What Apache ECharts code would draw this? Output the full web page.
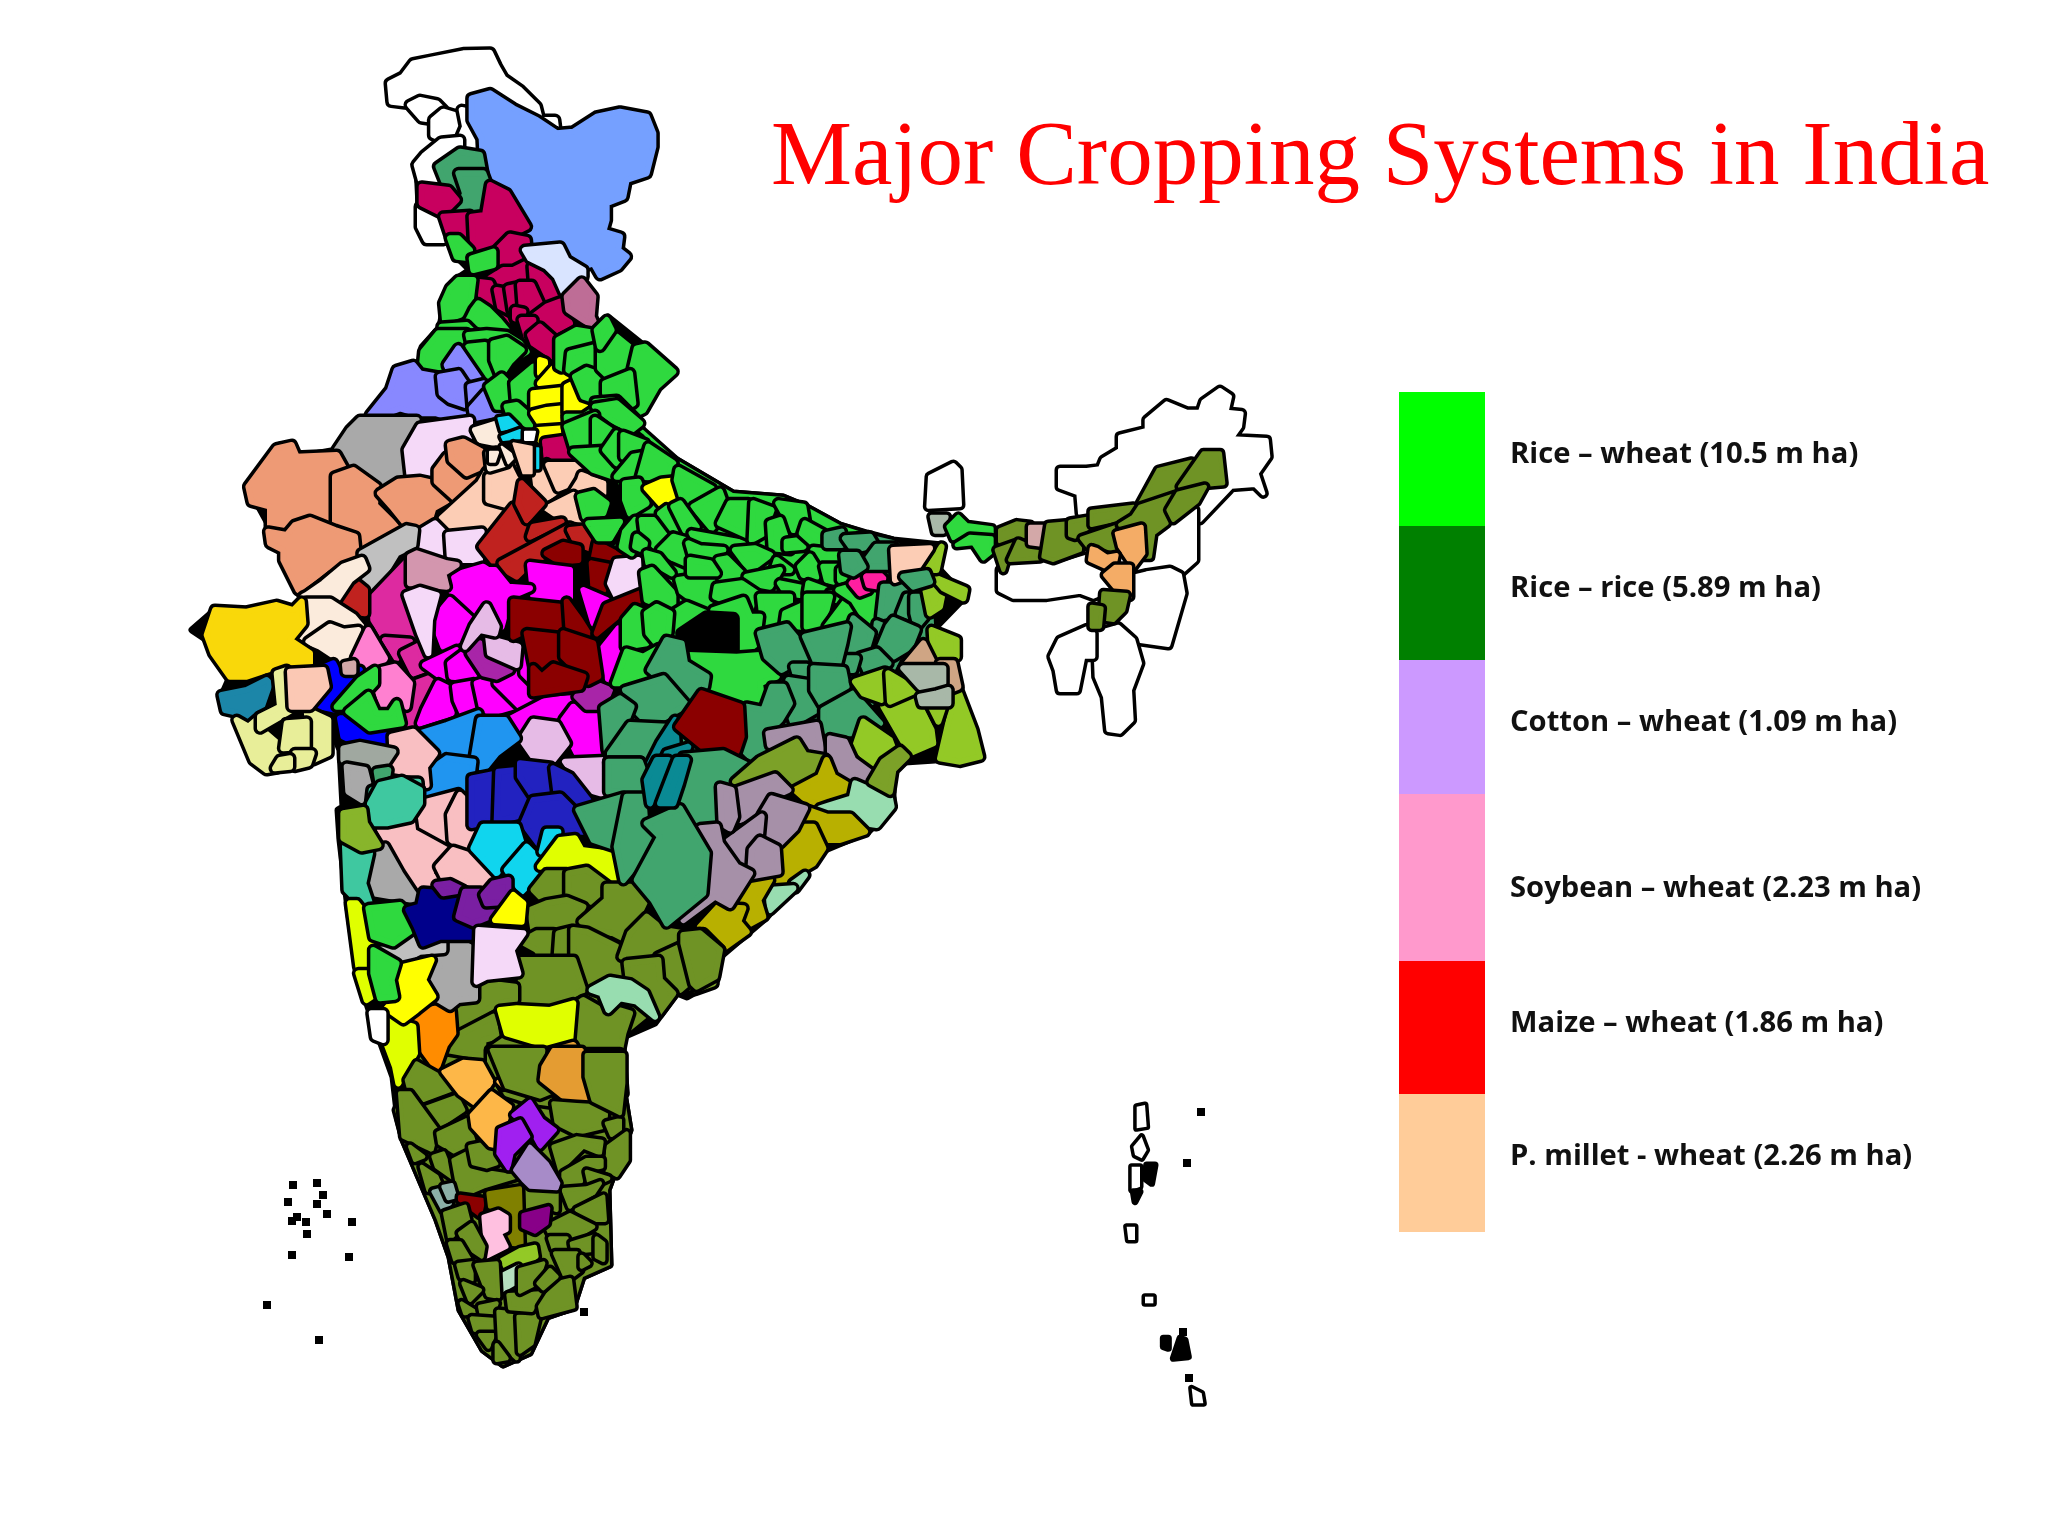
<!DOCTYPE html>
<html>
<head>
<meta charset="utf-8">
<style>html,body{margin:0;background:#fff}#main{width:2048px;height:1536px}</style>
<script src="https://cdn.jsdelivr.net/npm/echarts@6/dist/echarts.min.js"></script>
</head>
<body>
<div id="main"></div>
<script>
// legend
var cropLabels = ['Rice – wheat (10.5 m ha)', 'Rice – rice (5.89 m ha)', 'Cotton – wheat (1.09 m ha)', 'Soybean – wheat (2.23 m ha)', 'Maize – wheat (1.86 m ha)', 'P. millet - wheat (2.26 m ha)'];
var cropColors = ['#00FF00', '#008000', '#CC99FF', '#FF99CC', '#FF0000', '#FFCC99'];
var legendEdges = [392, 526, 660, 794, 961, 1094, 1232];

// district fill colours, short names used by the outlines below
var fills = {
  black: '#000', white: '#fff', green: '#2FD93F', sea: '#41A56E', olive: '#6F9325', blue: '#75A0FF', ice: '#D9E4FF',
  mauve: '#BE6D96', crim: '#C8005F', peri: '#8888FF', yel: '#FFFF00', gray: '#A9A9A9', lilac: '#F5D9F8', cream: '#FBEBDC',
  cyan: '#10D5EE', salm: '#EE9A75', peach: '#FCCDB5', silver: '#C0C0C0', dred: '#C0221F', mar: '#8B0000', mag: '#FF00FF',
  rose: '#DD2AA0', dull: '#D396AE', gold: '#F9D80A', pink: '#FF80D0', bblue: '#0000FF', lake: '#1C86A8', pyel: '#E8EE99',
  psal: '#FBC8B4', purp: '#A825A8', plum: '#E6BBE6', sky: '#2095F0', royal: '#2222C0', ppink: '#F9BFC2', ggreen: '#A0A8A0',
  aqua: '#3FC8A0', tile: '#D3A8A8', hot: '#FF1FA0', teal: '#0A8A94', moss: '#7CA128', grape: '#A690A8', ogold: '#B8B000',
  ygreen: '#93C926', tan: '#CFA584', sage: '#A8B8A8', mint: '#98DDB0', orng: '#F4AC66', lime: '#E0FF00', dorng: '#FF8C00',
  amber: '#E49C32', lorng: '#FDB748', navy: '#00008B', vio: '#7A1FA2', viol: '#A020F0', lav: '#A78BC8', grey2: '#8CB0A8',
  dolive: '#808000', bpink: '#FFC0E0', dpurp: '#880088', pmint: '#B5E0C0', lgreen: '#88B52B'
};

// mainland silhouette and regional underlays, whole-picture pixels
var mainland = ['black|417,165 420,227 442,242 450,240 457,257 470,270 458,278 445,300 440,327 422,347 420,368 413,365 397,370 390,390 370,415 337,450 297,457 280,445 248,487 270,527 283,560 298,592 303,602 293,610 247,612 215,610 192,630 207,640 230,677 222,695 260,760 270,770 313,762 328,753 328,720 340,750 343,807 338,810 340,840 347,900 357,973 370,1013 393,1077 398,1120 403,1140 437,1220 450,1257 460,1310 483,1350 503,1365 530,1353 547,1317 573,1308 583,1277 610,1265 608,1190 630,1130 623,1087 623,1037 655,1023 677,993 687,997 717,980 720,957 767,917 825,850 868,832 893,807 893,773 905,762 935,760 980,758 957,687 933,630 965,597 937,567 942,545 893,540 867,533 840,525 807,507 783,497 733,493 677,460 650,443 647,440 637,417 645,410 657,387 673,372 643,345 608,317 597,327 570,297 525,253 523,220 483,173 480,155 460,152 438,167',
  'olive|395,1110 430,1030 470,1000 560,985 640,1000 677,993 623,1037 623,1087 630,1130 608,1190 610,1265 583,1277 573,1308 547,1317 530,1353 503,1365 483,1350 460,1310 450,1257 437,1220 403,1140',
  'sea|850,530 893,540 930,560 935,640 900,660 880,700 820,740 760,720 690,760 640,740 620,700 640,660 760,640 850,640',
  'green|640,427 677,460 733,493 783,497 807,507 840,525 865,533 880,590 850,640 760,630 700,640 640,650 620,690 625,600 600,560 640,520 610,470'];

// crop-local outlines: x/3 + origin gives picture pixels
var northDistricts = ['white|60,130 100,110 130,70 180,60 280,40 360,38 380,80 400,115 450,150 500,200 510,240 555,240 560,280 500,240 430,205 360,160 310,175 305,210 275,210 240,215 200,190 150,180 105,190 65,185', 'white|120,195 150,180 200,190 220,210 190,240 155,235', 'white|190,240 220,215 270,230 285,260 270,295 225,300 190,285', 'white|275,210 300,215 305,240 335,295 330,340 270,330 270,295 285,260', 'white|140,375 165,345 215,305 270,300 270,330 205,380 215,440 155,430', 'white|150,500 215,510 220,600 170,600 150,560',
  'blue|305,175 360,160 430,205 500,240 560,280 610,275 680,230 750,215 830,230 850,280 850,320 830,400 770,420 760,470 710,490 710,540 700,575 750,590 745,630 770,650 745,680 690,705 670,670 640,680 590,650 570,615 530,625 480,600 465,550 420,490 370,425 340,400 335,295 305,240',
  'sea|205,380 270,335 330,345 340,400 265,400 285,460 265,480 240,450 225,430', 'sea|265,400 340,400 355,440 345,525 265,510 285,460',
  'crim|155,440 235,450 260,480 240,500 215,520 155,490', 'crim|220,530 300,525 305,630 265,590 240,590', 'crim|305,530 345,525 360,435 410,460 470,560 420,585 380,620 310,635', 'crim|380,630 420,590 470,600 475,660 430,685 400,680', 'crim|360,715 400,690 430,690 470,670 480,710 430,735 390,745', 'crim|485,680 540,720 560,770 530,800 500,790 490,745', 'crim|320,725 360,730 385,790 410,850 400,865 340,790', 'crim|380,750 410,755 420,815 390,800', 'crim|415,745 440,740 450,810 425,810', 'crim|450,735 485,735 510,790 480,825 455,800', 'crim|435,810 460,815 455,840 435,835', 'crim|490,830 530,800 570,785 600,850 560,870 510,850', 'crim|455,840 490,840 490,880 470,890', 'crim|480,885 510,860 555,900 550,950 490,910',
  'ice|465,630 570,620 590,660 640,690 640,710 580,755 560,710 530,680 480,655', 'mauve|590,770 635,725 670,770 665,830 680,865 640,840 595,810',
  'green|240,595 265,595 300,630 300,655 260,650', 'green|305,655 370,635 370,675 310,690', 'green|265,720 310,720 300,800 270,825 225,840 220,790 240,745', 'green|325,790 355,810 385,840 410,870 370,870 320,850 290,850 310,810', 'green|215,860 290,855 320,885 300,885', 'green|160,935 205,880 290,880 270,915 235,930 210,985 155,985', 'green|295,885 350,880 410,885 450,910 470,935 430,960 390,1000 370,970 350,1020 320,990', 'green|295,920 345,915 360,1010 335,1020', 'green|370,910 410,900 455,930 420,965 390,1010 370,960',
  'peri|230,975 265,925 330,1020 275,1000 245,1010', 'peri|0,1125 60,1050 80,990 130,975 150,1000 205,1010 210,1060 240,1085 270,1100 290,1130 230,1130 200,1120 140,1120 90,1105 50,1120', 'peri|210,1010 265,1000 285,1030 285,1095 240,1080 215,1060', 'peri|300,1040 340,1030 345,1060 305,1100', 'peri|305,1105 345,1060 385,1120 310,1135',
  'green|355,1040 395,1010 425,1040 430,1100 380,1100', 'green|430,1030 490,980 505,1010 490,1090 435,1090', 'green|410,1100 440,1095 480,1130 480,1160 450,1140 420,1130',
  'yel|510,960 525,965 525,1000 510,1000', 'yel|510,1030 550,985 595,1015 590,1040 540,1040', 'yel|490,1060 580,1050 580,1090 530,1100 490,1105', 'yel|490,1120 530,1110 580,1105 585,1150 510,1150', 'yel|505,1170 580,1165 580,1200 505,1200', 'yel|590,1040 610,1030 660,1090 640,1120 590,1120',
  'green|565,900 620,870 680,880 690,905 640,930 590,935 575,985 565,980', 'green|600,940 680,920 680,990 630,990 615,1000 595,990', 'green|615,1010 650,990 705,1010 700,1060 670,1080 640,1070', 'green|690,925 740,890 790,930 780,1010 710,1005 690,985', 'green|800,925 825,920 910,995 860,1040 820,1110 800,1120 780,1010', 'green|705,1030 780,1000 790,1090 770,1100 705,1060', 'green|675,1085 740,1080 800,1140 780,1165 720,1150 670,1125', 'green|590,1130 640,1130 670,1110 665,1200 595,1200', 'green|680,1140 720,1160 725,1200 680,1200', 'green|730,1170 770,1170 810,1200 730,1200', 'green|710,840 725,870 690,920 680,870'];

var westDistricts = ['gray|470,90 510,30 540,0 710,0 700,50 670,90 665,165 600,205 550,150 500,150 480,120', 'lilac|680,90 720,20 870,0 870,50 810,75 760,160 690,180', 'cream|885,30 950,10 950,70 900,60', 'crim|1095,65 1165,55 1175,115 1100,115',
  'salm|205,200 290,85 335,75 350,110 470,105 495,150 460,165 460,320 390,295 345,315 330,350 270,320 270,260 215,245', 'salm|465,170 520,150 590,200 585,255 650,320 640,360 550,385 520,340 465,325', 'salm|600,220 655,185 720,180 765,190 805,240 760,265 745,315 680,315 640,265', 'salm|265,335 320,345 345,315 390,300 465,330 525,350 530,400 440,445 355,510 310,420 310,390 270,370', 'salm|770,150 800,110 830,150 860,165 900,145 880,190 825,235 770,185', 'salm|810,75 850,65 915,100 905,140 860,160 815,120',
  'peach|785,295 900,190 920,155 930,240 980,255 935,330 860,320 790,325', 'peach|925,170 1010,130 1025,205 1015,250 980,255 925,240', 'peach|1000,80 1060,80 1060,155 1030,160 1000,100', 'peach|1065,170 1100,130 1120,200 1135,210 1100,235 1070,210', 'peach|1105,135 1205,135 1200,180 1135,205', 'peach|1205,165 1270,190 1270,220 1175,220 1200,180', 'peach|1100,265 1180,225 1205,300 1130,285', 'cream|925,100 950,95 980,130 930,145',
  'lilac|715,340 765,310 800,345 800,420 725,380', 'lilac|805,345 905,335 900,420 810,420', 'silver|545,400 680,325 705,330 700,375 650,400 580,515 550,490',
  'dred|905,380 1000,260 1045,320 1040,370 975,420 945,430', 'dred|1025,190 1085,250 1040,300 1015,250', 'dred|1060,320 1145,305 1050,350', 'dred|965,430 1170,320 1165,370 1050,430 1010,470 975,450', 'dred|1170,330 1220,325 1245,370 1230,385 1190,370',
  'mar|1100,400 1150,375 1195,385 1195,420 1140,425', 'mar|1250,370 1325,410 1300,440 1240,420', 'mar|1235,430 1285,440 1270,510 1240,500', 'lilac|1290,490 1310,425 1375,420 1375,500 1310,530',
  'mag|1050,435 1170,450 1170,540 1085,550 1060,530', 'mag|825,465 910,440 925,450 945,450 985,500 1050,505 990,530 965,620 900,590 870,600 850,560 810,510', 'mag|760,600 810,540 875,600 860,650 790,680',
  'rose|575,535 680,425 670,510 680,560 700,660 610,650 580,600', 'rose|615,660 690,665 650,715', 'rose|670,700 720,675 730,750 700,760', 'rose|705,790 760,770 735,860 690,920 680,890',
  'dull|690,410 710,400 800,430 830,435 790,460 800,500 690,490', 'lilac|680,525 720,510 770,525 750,600 745,700 720,640', 'dred|490,535 530,490 555,510 555,580 520,575',
  'cream|380,525 430,490 490,440 545,420 555,445 510,480 470,540 370,530', 'cream|380,545 450,545 520,590 545,620 460,600 430,640 350,660 370,600', 'cream|385,665 450,620 490,635 535,630 520,720 490,760 480,720 420,680',
  'gold|80,645 105,570 200,575 290,555 340,570 365,545 370,610 330,660 390,700 390,730 290,740 200,770 150,770 100,700', 'pink|525,715 565,630 615,715 600,735 540,740', 'pink|590,800 605,750 645,740 690,790 680,860 640,830 610,870',
  'bblue|420,860 450,800 435,740 460,730 480,770 540,750 520,790 470,870', 'bblue|480,895 500,895 540,935 625,945 625,975 520,965 490,950', 'green|470,860 540,780 585,750 585,790 520,860', 'green|505,875 565,825 590,880 630,880 650,850 665,910 570,925',
  'lake|125,825 200,810 260,780 270,790 235,890 210,905 180,880 135,870', 'pyel|170,900 205,920 240,890 240,925 310,985 290,1045 260,1050 220,1020', 'pyel|290,760 320,750 335,870 310,885 240,925 240,890 300,860', 'pyel|380,870 445,900 445,1000 400,1020 370,990 385,930', 'pyel|320,910 380,905 380,980 310,985', 'pyel|345,1000 395,1000 385,1030 345,1040', 'pyel|300,1020 330,1015 330,1040 285,1045', 'psal|330,755 430,750 440,800 390,860 335,860', 'tile|495,735 520,730 520,755 497,755',
  'mag|735,735 830,690 810,760 790,775', 'mag|810,730 850,700 900,740 880,775 815,770', 'mag|735,870 775,790 815,810 815,880 720,910', 'mag|825,800 880,790 890,860 850,885 830,840', 'mag|890,790 920,780 1000,860 930,880 905,860', 'mag|950,790 1030,750 1090,830 1020,860', 'mag|1030,700 1060,710 1060,790 1030,760', 'mag|985,900 1100,840 1175,835 1140,900 1040,910 1000,940', 'mag|1150,900 1180,860 1255,870 1265,990 1200,1020 1180,980', 'mag|1255,700 1315,625 1335,730 1285,780', 'mag|1210,510 1280,540 1240,610',
  'purp|870,700 900,670 920,720 990,750 950,770 910,760', 'purp|1190,830 1230,785 1290,810 1270,860 1220,860', 'plum|925,655 1015,680 1010,735 930,700', 'plum|880,620 920,560 950,620 945,640 900,630 855,680', 'plum|1025,960 1060,905 1130,915 1160,970 1120,1020 1060,1010', 'plum|1155,1025 1280,1020 1280,1125 1210,1105',
  'mar|1000,545 1140,560 1150,640 1040,630 1000,650', 'mar|1160,545 1200,600 1225,640 1165,620', 'mar|1040,640 1135,650 1145,730 1115,770 1060,740', 'mar|1150,640 1240,670 1255,770 1225,785 1150,710', 'mar|1060,745 1085,770 1120,740 1210,770 1200,800 1060,820', 'mar|1250,640 1280,560 1380,520 1380,540 1310,590',
  'sky|720,940 800,915 895,880 890,1000 860,1010 780,1000', 'sky|900,900 975,900 1010,955 950,1000 910,1050 880,1020', 'sky|750,1050 800,1015 880,1025 870,1105 780,1110 730,1150',
  'ppink|635,950 700,935 765,1000 735,1040 740,1095 700,1060 640,1050', 'ggreen|490,985 540,975 640,995 610,1040 540,1055 490,1020', 'gray|500,1040 555,1050 565,1090 545,1140 505,1115', 'sea|590,1055 625,1050 620,1085 595,1085', 'aqua|575,1110 640,1085 715,1085 720,1155 710,1200 565,1200'];

var delhiDistricts = ['cyan|175,265 205,260 235,290 185,300', 'cyan|185,320 240,300 240,325 190,330', 'cyan|285,355 295,355 295,415 280,415', 'white|255,305 285,305 280,330 255,330', 'cream|150,365 175,365 165,395 150,395', 'cream|185,350 225,380 205,400', 'peach|220,340 275,350 275,430 250,430'];

var eastDistricts = ['green|105,20 170,10 240,70 215,90 155,60', 'green|20,80 105,45 100,140 40,145', 'green|105,60 150,90 130,135 105,135', 'green|40,155 130,150 160,230 100,210', 'green|135,150 170,100 180,145 170,190', 'green|190,105 255,130 215,170 190,170', 'green|170,230 220,170 250,165 215,230', 'green|240,230 265,140 340,190 320,235', 'green|195,250 235,245 260,310 210,340 195,300', 'yel|260,265 305,245 355,240 355,290 305,315', 'green|355,210 455,265 400,310 375,320 350,240', 'green|400,320 480,275 500,330 455,385', 'green|300,340 320,325 380,400 340,415 305,370', 'green|340,320 360,310 410,380 380,400', 'green|60,290 100,280 140,310 130,340 75,350', 'green|85,370 180,365 150,415 115,415', 'green|195,395 225,360 240,400 215,460 185,440', 'green|245,360 280,360 325,420 290,445 250,400', 'green|230,410 255,430 250,450 225,440', 'green|340,410 375,420 375,490 340,475 300,450', 'green|395,400 450,410 560,430 550,450 420,440', 'green|385,430 420,445 490,450 450,480 395,465', 'green|480,370 510,310 565,310 570,410', 'green|580,310 635,330 610,400 575,420', 'green|655,310 730,320 740,380 700,390', 'green|630,370 660,360 690,450 635,445', 'green|680,425 720,420 730,440 680,445', 'green|735,370 790,400 770,440 725,400', 'green|760,450 850,460 830,490 790,490', 'green|525,450 585,445 630,465 570,510', 'green|650,480 690,510 640,510', 'green|720,500 750,470 775,510 770,530 730,525', 'green|790,500 830,500 820,545 800,540', 'green|840,510 855,500 890,525 840,540', 'green|475,480 500,475 545,520 480,550', 'green|260,460 295,470 335,520 300,500 265,490', 'green|250,520 275,510 340,580 340,630 260,600', 'green|355,540 455,525 460,580 440,630 365,575', 'green|390,480 450,490 470,520 390,520 390,510', 'green|560,530 660,510 630,560 570,550', 'green|470,560 545,550 590,580 570,630 465,590', 'green|660,550 735,565 720,585 680,580', 'green|745,550 800,570 760,590 740,580', 'green|810,580 830,580 835,600 805,600', 'green|600,590 690,590 690,610 640,680 610,680', 'green|675,640 730,615 725,680 670,675', 'green|740,590 810,590 800,630 775,680 740,680', 'green|800,680 860,600 890,650 850,670', 'green|835,570 870,560 900,580 950,570 950,640 930,680 880,600', 'green|340,640 380,615 440,640 370,700 345,700', 'green|460,630 550,600 570,650 600,650 590,730 555,760 525,750 525,660 490,655', 'green|195,660 225,625 260,640 260,730 195,740', 'green|260,640 290,620 330,640 325,700 290,730 265,700',
  'black|365,700 440,650 520,655 520,765 375,765', 'green|385,765 530,770 600,765 650,830 600,850 610,920 530,910 440,860 440,840', 'green|200,755 250,770 295,745 260,790 250,850 190,850 165,850', 'hot|875,550 900,525 925,570 900,580', 'hot|918,530 945,510 970,535 960,560 925,555',
  'sea|800,405 845,395 845,435 800,435', 'sea|855,415 930,410 945,435 880,450', 'sea|920,480 950,440 1000,440 990,500 915,500', 'sea|850,465 890,465 910,500 880,520 855,510', 'sea|970,560 1040,560 1010,640 960,650', 'sea|1020,640 1040,590 1060,590 1050,650', 'sea|1060,590 1085,590 1095,650 1070,680 1060,640', 'sea|950,670 1000,690 985,720 945,715', 'sea|985,680 1000,660 1070,690 1050,740 1000,770 960,740', 'sea|860,710 880,655 935,700 920,750 865,770', 'sea|900,770 950,755 985,790 920,815', 'sea|845,775 890,775 880,810 850,810', 'sea|600,700 680,680 755,770 700,790 665,810 620,770', 'sea|735,710 860,680 850,730 835,790 770,790', 'sea|700,800 740,800 745,830 710,835', 'sea|685,840 750,850 770,930 700,970 675,900', 'sea|760,805 850,810 860,860 790,920 760,870', 'sea|790,930 880,880 960,970 890,960 880,1000 790,1000', 'sea|270,810 320,720 365,730 375,790 440,830 435,860 380,900', 'sea|195,870 310,835 380,915 270,975 215,920', 'sea|130,925 180,895 215,920 190,985 140,1050', 'sea|150,1060 210,975 320,980 290,1040 250,1075 150,1080', 'sea|145,1085 240,1085 250,1170 150,1180', 'sea|560,920 610,930 635,860 670,860 690,910 660,960 620,1000 610,1090 530,1060 550,990', 'sea|380,1085 440,1055 520,1060 570,1110 520,1150 480,1200 360,1200',
  'teal|300,1030 345,960 350,1030 270,1140 260,1110', 'teal|320,1060 385,1040 365,1090 330,1200 285,1200 290,1130', 'mar|355,980 425,880 540,920 545,1010 530,1055 440,1050',
  'ygreen|885,1040 910,965 990,1020 1005,1060 950,1115', 'ygreen|970,920 1070,900 1115,990 1120,1030 1050,1060 1010,990', 'ygreen|1140,1075 1190,860 1240,990 1260,1070 1200,1085', 'ygreen|1115,925 1150,920 1135,965', 'ygreen|885,845 975,815 965,900 910,880', 'ygreen|985,820 1070,870 990,905', 'ygreen|1095,565 1150,570 1140,620 1110,640', 'ygreen|1120,530 1215,570 1210,595 1150,565', 'ygreen|1115,690 1190,720 1190,770 1120,775', 'ygreen|1100,510 1145,440 1130,510',
  'tan|1040,790 1090,730 1120,790', 'tan|1140,790 1180,790 1195,860 1170,870', 'sage|1030,805 1150,805 1150,850 1110,880 1080,860', 'sage|1080,890 1130,880 1165,870 1165,910 1085,910', 'peach|1000,450 1110,445 1060,520 1005,540', 'sea|1030,530 1100,520 1110,545 1060,560'];

var coastDistricts = ['sea|10,110 130,100 210,140 160,180 110,200 110,310 60,320 80,420 10,560 0,250', 'grape|265,40 410,15 425,95 375,100 355,60 270,75', 'grape|450,55 495,65 520,120 575,160 560,185 480,170 450,120', 'moss|165,185 240,120 350,65 375,105 435,115 420,160 345,195 310,165 250,175 215,190', 'ogold|345,210 420,170 440,120 460,170 520,205 525,225 480,250 440,240 390,250', 'mint|420,265 450,255 515,235 525,190 630,235 635,260 590,315 555,310 510,280 430,280', 'ogold|365,300 385,270 440,290 510,290 555,335 480,360 425,360 400,305', 'ogold|305,395 350,320 400,320 430,385 400,430 340,465 330,490 285,480', 'mint|340,490 375,465 345,505', 'mint|265,510 340,505 270,570', 'ogold|195,510 230,475 270,480 235,540 250,590 195,620 175,590', 'ogold|60,620 115,560 190,565 175,605 200,635 130,685', 'grape|160,215 285,170 325,210 270,235 235,280 180,300', 'grape|245,285 275,235 375,265 345,325 300,370 245,345', 'grape|135,370 245,290 240,345 205,395 190,445 165,430', 'grape|215,390 240,360 290,385 295,455 210,470', 'grape|120,200 155,210 165,290 150,325 125,310', 'grape|60,325 110,320 120,370 170,440 210,460 150,555 105,530 10,600 15,555 85,470', 'moss|10,640 70,640 120,690 85,770 100,790 45,810 25,700', 'olive|0,640 10,640 35,800 0,810', 'moss|575,185 610,125 660,90 680,110 640,150 630,215'];

var northeastDistricts = ['white|420,300 500,300 540,295 550,270 600,240 600,200 680,180 680,150 740,100 800,125 840,125 850,95 900,60 930,80 920,125 965,130 960,170 935,205 1040,210 1045,260 1010,310 1030,370 1005,345 935,350 840,450 825,415 850,345 910,340 900,250 850,250 815,275 715,300 660,400 480,430 475,370 420,350', 'white|30,320 100,285 115,300 120,405 25,410', 'sage|35,440 80,440 70,485 45,485', 'green|85,470 115,440 140,465 215,475 215,490 140,495 100,505', 'green|110,525 150,500 215,505 215,545 190,565 160,520',
  'white|640,610 700,545 720,490 750,465 825,420 825,570 780,610 750,590 680,610', 'white|640,620 680,610 750,600 780,615 790,670 745,825 640,810 600,800 600,770 630,680', 'white|240,600 270,570 360,570 400,590 500,560 550,620 570,660 520,680 480,665 380,680 280,680 240,660', 'white|525,790 595,770 640,810 660,880 630,960 635,1050 600,1085 565,1080 555,980 530,920', 'white|395,860 420,810 500,775 520,790 520,860 490,860 470,960 420,960 410,900',
  'olive|240,480 290,460 330,465 330,495 240,515', 'olive|230,540 285,520 260,565 250,600', 'olive|270,570 295,515 330,530 360,535 360,565', 'tile|330,470 375,470 370,525 330,520', 'olive|385,465 445,460 445,510 480,520 480,540 400,570 370,560', 'olive|450,455 510,445 510,470 465,500 450,495', 'olive|515,425 640,410 630,440 515,465', 'olive|485,505 590,470 580,510 590,530 600,545 550,530 505,530', 'olive|660,400 715,300 815,275 760,360', 'olive|780,350 850,250 900,250 910,340 850,345 790,365', 'olive|640,440 660,410 765,375 740,460 700,490 690,560 670,560 660,470 600,465', 'olive|745,420 775,370 855,350 830,395 760,450',
  'orng|590,490 665,470 670,550 640,590 600,530', 'orng|515,535 530,540 560,560 590,555 585,580 555,590 510,570', 'orng|555,615 585,590 630,590 630,680 600,670', 'olive|550,670 620,675 610,720 580,750 545,745', 'olive|515,710 545,715 540,770 515,770'];

var centralDistricts = ['ppink|250,205 290,125 385,100 360,155 350,245 290,230', 'ppink|360,165 390,105 415,130 420,200 445,210 410,270 365,240', 'ppink|150,210 245,180 250,215 350,270 300,340 330,370 260,385 205,310', 'ppink|325,320 370,270 430,290 485,360 470,385 390,360 340,350',
  'royal|425,55 500,40 495,180 425,195', 'royal|505,35 560,30 600,120 575,165 500,185', 'royal|570,10 660,20 665,90 610,110 570,50', 'royal|670,25 720,50 775,120 735,135 680,105', 'royal|580,190 610,120 690,110 770,190 760,215 690,215 625,250', 'cyan|430,265 460,200 560,200 575,250 540,290 500,340', 'cyan|530,330 590,260 620,290 620,350 575,395', 'cyan|635,275 650,215 685,215 680,270', 'lime|630,320 690,240 735,235 755,270 870,285 860,365 790,330 700,325',
  'olive|610,390 650,340 710,340 705,420 650,430', 'olive|715,340 770,330 830,375 820,440 770,420 715,410', 'olive|600,450 650,430 710,420 760,440 735,490 680,510 610,510', 'olive|755,485 830,420 830,380 905,380 945,425 890,540 850,520 780,510', 'olive|575,545 620,520 670,520 680,560 640,600 620,570', 'olive|685,520 725,510 725,600 680,590', 'olive|730,510 770,515 860,560 870,650 765,685 730,640', 'olive|875,590 900,520 950,470 1000,510 1060,520 990,580 910,600', 'olive|985,590 1050,560 1085,660 1050,690 1000,660', 'olive|1060,550 1060,525 1110,520 1170,570 1155,650 1100,680 1090,670', 'olive|890,610 985,600 990,660 1030,700 985,760 950,680 895,650', 'olive|570,600 610,600 730,600 760,690 640,745 575,730', 'olive|385,725 470,670 555,680 555,720 500,730 385,810', 'olive|385,825 490,770 500,830 460,840 460,890 350,870', 'olive|480,870 530,835 630,870 620,950 660,1000 660,1030 590,1020 530,1000 480,910', 'olive|730,740 760,720 830,760 850,745 900,760 880,820 870,870 770,870 735,830', 'olive|760,880 870,880 880,1000 800,1060 790,990',
  'mint|785,690 840,660 900,670 945,700 975,770 920,725 870,715 835,750 815,700', 'lime|510,750 560,745 660,750 730,730 720,850 690,860 630,850 530,820', 'dorng|245,760 345,740 365,755 370,820 345,855 320,925 265,850', 'amber|640,880 730,855 760,910 790,985 785,1030 680,1000 635,930',
  'gray|100,375 120,290 165,260 210,340 250,400 280,440 250,420 130,400', 'gray|280,655 330,620 310,575 365,530 435,570 435,715 385,720 360,740 310,710', 'silver|150,570 195,560 265,515 270,550 340,540 340,570 270,575 225,600', 'aqua|45,260 120,280 100,370 120,430 70,410 50,390', 'aqua|120,130 150,75 215,60 270,90 270,130 240,175 170,190 120,190', 'lgreen|40,160 100,150 105,190 145,255 95,265 40,235',
  'lime|60,430 80,430 120,480 125,570 110,625 85,620', 'lime|85,640 110,640 140,700 110,720', 'lime|165,840 185,780 250,800 255,880 205,970 195,920', 'yel|200,625 305,600 280,660 310,710 260,750 220,780 170,745 205,700', 'green|115,445 210,435 250,480 240,515 190,550 130,530', 'green|130,570 200,610 185,660 195,710 150,715 130,640',
  'navy|235,450 270,440 280,395 340,400 390,400 385,480 430,510 430,530 330,530 280,550 260,500', 'vio|320,375 360,370 400,390 340,400', 'vio|405,395 450,395 460,430 495,440 490,465 430,490 385,470', 'vio|460,405 490,370 535,360 535,425 470,430', 'yel|495,480 550,405 580,430 575,485', 'lilac|445,510 580,520 545,570 565,640 470,650 440,665',
  'sea|835,5 930,5 945,45 930,90 835,95', 'sea|745,150 880,110 880,175 850,260 790,240', 'sea|860,260 890,110 940,110 945,180 970,290 930,300 880,360', 'sea|920,360 990,230 950,190 1050,145 1130,280 1120,400 1010,490 970,420', 'teal|950,60 980,0 1015,0 1000,50 960,130', 'teal|990,130 1040,0 1070,0 1050,70 1030,130', 'white|125,760 160,760 160,840 135,830'];

var southDistricts = ['olive|140,90 170,40 260,90 285,115 190,150 150,130', 'olive|180,180 290,140 310,180 220,240', 'olive|120,130 150,130 230,240 215,300 130,260', 'olive|235,250 320,210 340,270 290,310 240,280', 'olive|150,290 190,320 165,330', 'olive|220,320 250,310 280,385 230,350', 'olive|185,350 230,380 240,405 205,420', 'olive|280,330 320,310 340,360 470,380 370,410 300,440', 'olive|330,290 380,280 410,340 380,350 340,340',
  'lorng|250,65 310,35 365,40 395,95 350,165 300,130', 'lorng|335,195 395,130 450,170 415,290 390,285 340,230', 'lorng|415,95 450,90 430,110', 'olive|395,0 550,0 545,70 590,120 540,140 440,110', 'amber|550,50 580,0 665,0 700,160 620,150 545,90', 'olive|580,160 650,165 740,170 735,230 650,250 590,220', 'olive|740,220 780,210 780,250 755,255', 'olive|680,15 790,15 790,100 780,190 700,150 680,80', 'olive|745,290 800,250 800,330 770,375 740,360', 'olive|580,290 650,265 725,275 720,310 670,290 600,360', 'olive|610,370 680,330 725,330 725,350 680,360 660,400 610,400', 'olive|680,365 745,385 690,410', 'olive|610,420 680,415 720,400 700,430 630,470', 'olive|650,480 730,440 735,510 690,510', 'olive|490,420 590,430 590,480 560,470 490,490', 'olive|560,530 630,495 700,530 650,560 570,550', 'olive|570,565 620,565 620,595 580,595', 'olive|635,580 700,560 700,600 640,605', 'olive|710,565 730,580 730,630 710,620', 'olive|585,610 650,610 660,660 620,690', 'olive|665,620 685,640 665,650',
  'viol|460,195 510,155 545,210 585,240 540,290 510,235', 'viol|420,240 480,215 505,260 455,310 445,355 415,310', 'lav|465,360 510,290 560,340 595,400 590,415 510,410 490,390', 'grey2|220,425 240,420 270,460 250,480', 'grey2|250,410 275,405 285,440 265,445', 'mar|300,440 370,450 360,495 300,450', 'dolive|385,430 480,415 485,585 440,580 440,490 390,470', 'bpink|370,500 415,485 440,500 440,540 420,550 440,590 380,620', 'dpurp|490,495 565,475 560,520 525,545 490,530', 'ygreen|425,630 480,600 525,590 530,620 490,650 435,650', 'pmint|425,675 475,650 465,700 430,720',
  'olive|255,490 315,470 325,510 270,565', 'olive|300,550 335,525 370,590 365,620 320,590', 'olive|270,580 300,580 330,630 285,630', 'olive|295,645 335,640 335,690 305,680', 'olive|350,645 410,640 415,740 385,735', 'olive|310,700 360,720 330,750', 'olive|305,760 345,785 315,790', 'olive|360,770 410,760 400,790 365,795', 'olive|335,805 410,810 405,845 345,840', 'olive|360,855 400,855 385,890', 'olive|415,785 460,790 470,870 470,925 420,880', 'olive|410,885 440,925 410,930', 'olive|475,800 535,795 515,880 480,905', 'olive|445,735 540,730 515,780 450,775', 'olive|540,770 585,700 630,690 640,770 545,795', 'olive|480,660 550,640 530,700 480,725', 'olive|535,700 570,660 590,680 550,715'];

var andamanIslands = ['white|110,50 135,45 140,110 110,115', 'white|100,170 125,140 140,180 125,205 105,195', 'white|95,230 120,230 120,290 95,300', 'white|80,410 105,410 105,450 85,450', 'white|135,620 160,620 160,640 135,640', 'white|275,895 305,910 310,940 280,940', 'black|140,225 165,225 155,280 135,265', 'black|100,305 120,305 105,335', 'black|190,745 205,745 205,775 190,770', 'black|240,745 255,750 265,800 220,805'];
var andamanDots = [[1201, 1112], [1187, 1163], [1183, 1332], [1189, 1378]];
var lakshadweepDots = [[293, 1185], [317, 1183], [323, 1195], [288, 1202], [317, 1204], [327, 1214], [297, 1217], [292, 1221], [306, 1222], [352, 1222], [307, 1234], [292, 1255], [349, 1257], [267, 1305], [319, 1340], [584, 1312]];

// outline list, origin x, origin y, scale, how far each district grows to close gaps
var groups = [
  [mainland, 0, 0, 1, 0],
  [northDistricts, 370, 40, 3, 3],
  [westDistricts, 180, 420, 3, 3],
  [delhiDistricts, 440, 330, 3, 1],
  [eastDistricts, 560, 400, 3, 3],
  [coastDistricts, 680, 720, 3, 3],
  [centralDistricts, 330, 760, 3, 3],
  [southDistricts, 360, 1050, 3, 2],
  [northeastDistricts, 920, 370, 3, 2],
  [andamanIslands, 1100, 1090, 3, 0]
];

var features = [];
var regions = [];
function addRegion(name, ring, fill, stroke, width) {
  features.push({ type: 'Feature', properties: { name: name }, geometry: { type: 'Polygon', coordinates: [ring] } });
  regions.push({ name: name, itemStyle: { areaColor: fill, borderColor: stroke, borderWidth: width } });
}
groups.forEach(function (g) {
  g[0].forEach(function (s, i) {
    var parts = s.split('|');
    var ring = parts[1].split(' ').map(function (p) {
      var xy = p.split(',');
      return [xy[0] / g[3] + g[1], xy[1] / g[3] + g[2]];
    });
    ring.push(ring[0]);
    var name = g[1] + '_' + i;
    var fill = fills[parts[0]];
    // black halo first, then the district grown in its own colour, so neighbours share one line
    addRegion(name + 'h', ring, fill, '#000', g[4] * 2 + 7);
    addRegion(name, ring, fill, fill, g[4] * 2);
  });
});
echarts.registerMap('india', { type: 'FeatureCollection', features: features });

var minX = 1e9, minY = 1e9, maxX = -1e9, maxY = -1e9;
features.forEach(function (f) {
  f.geometry.coordinates[0].forEach(function (p) {
    minX = Math.min(minX, p[0]); maxX = Math.max(maxX, p[0]);
    minY = Math.min(minY, p[1]); maxY = Math.max(maxY, p[1]);
  });
});

var graphics = [];
cropLabels.forEach(function (label, i) {
  graphics.push({ type: 'rect', shape: { x: 1399, y: legendEdges[i], width: 86, height: legendEdges[i + 1] - legendEdges[i] }, style: { fill: cropColors[i] } });
  graphics.push({ type: 'text', x: 1510, y: (i == 3 ? 889 : legendEdges[i] + 63), style: { text: label, fill: '#111', font: 'bold 29.2px "Open Sans"', textVerticalAlign: 'middle' } });
});

var chart = echarts.init(document.getElementById('main'));
chart.setOption({
  backgroundColor: '#fff',
  animation: false,
  title: { text: 'Major Cropping Systems in India', left: 766, top: 110, textStyle: { fontFamily: '"Liberation Serif"', fontSize: 91, fontWeight: 'normal', color: '#FF0000' } },
  geo: {
    map: 'india',
    projection: { project: function (p) { return p; }, unproject: function (p) { return p; } },
    left: minX, top: minY, width: maxX - minX, height: maxY - minY,
    roam: false, silent: true,
    itemStyle: { borderJoin: 'round', areaColor: '#fff' },
    label: { show: false },
    regions: regions
  },
  series: [{
    type: 'scatter', coordinateSystem: 'geo', symbol: 'rect', symbolSize: 8, silent: true,
    itemStyle: { color: '#000', opacity: 1 }, data: lakshadweepDots.concat(andamanDots)
  }],
  graphic: graphics
});
</script>
</body>
</html>
